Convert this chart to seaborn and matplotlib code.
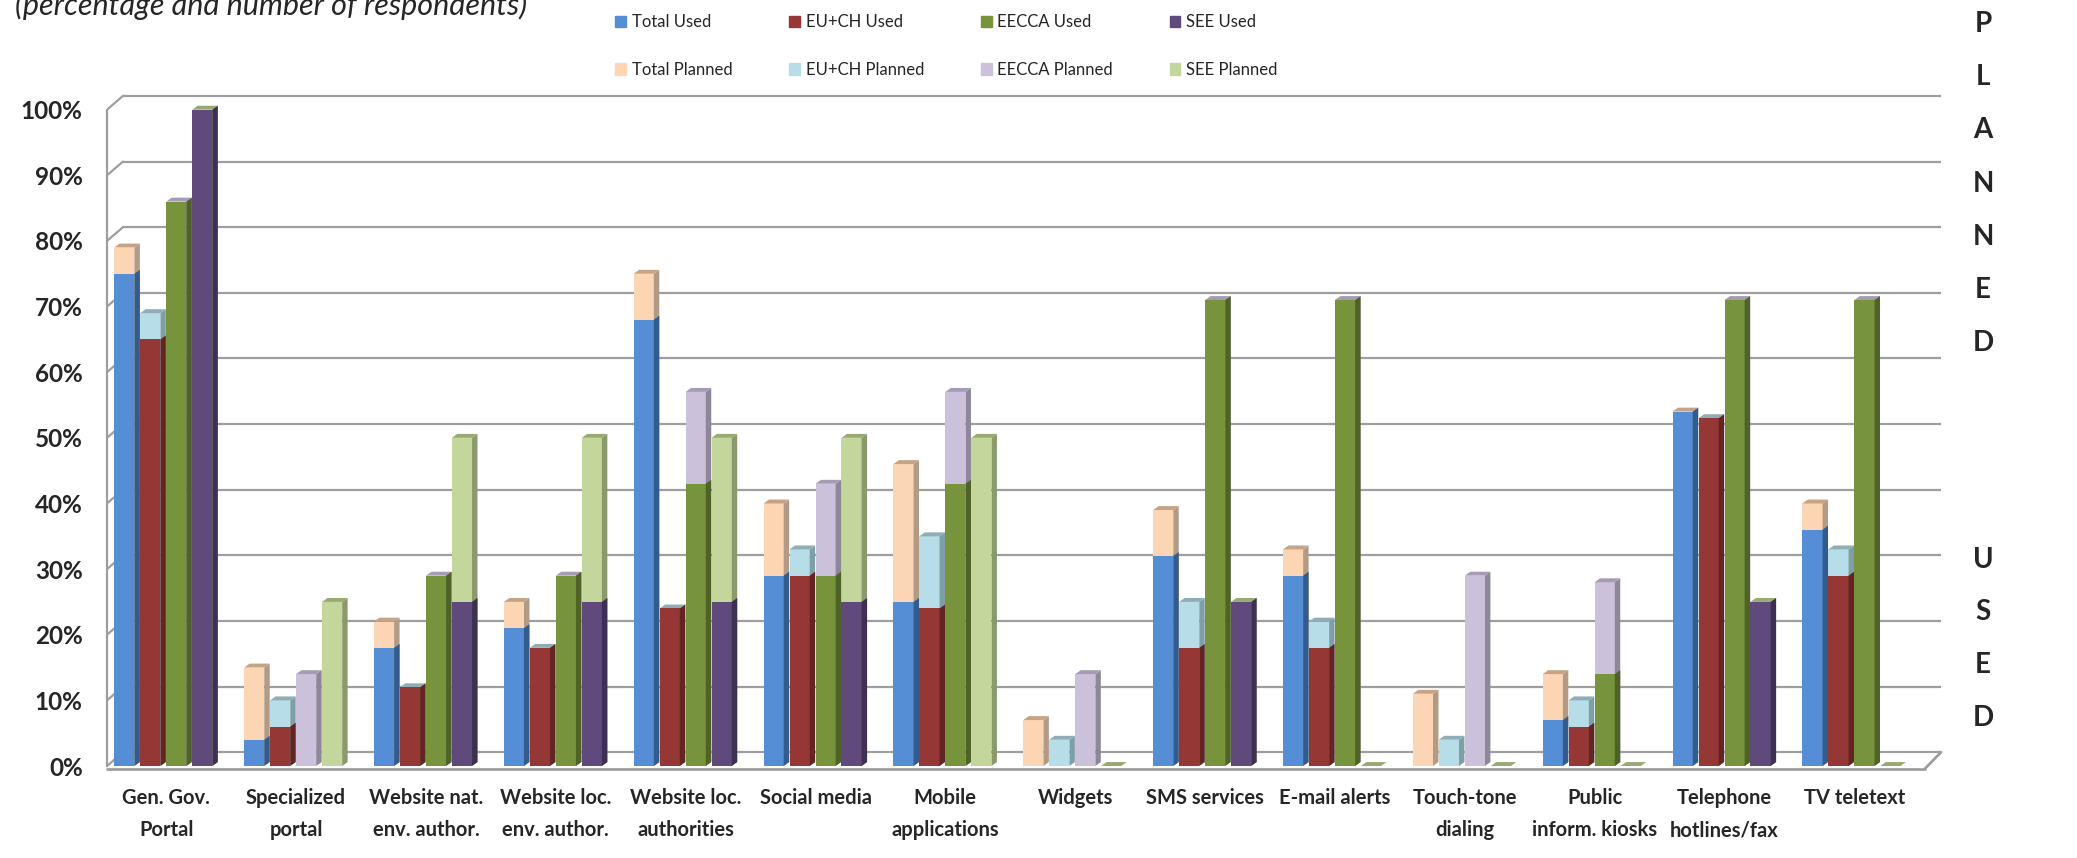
import matplotlib
matplotlib.use('Agg')
import matplotlib.pyplot as plt
from matplotlib.patches import Polygon, Patch
import seaborn as sns
import pandas as pd

# Data (percent of respondents)
categories = ['Gen. Gov.\nPortal', 'Specialized\nportal', 'Website nat.\nenv. author.',
              'Website loc.\nenv. author.', 'Website loc.\nauthorities', 'Social media',
              'Mobile\napplications', 'Widgets', 'SMS services', 'E-mail alerts',
              'Touch-tone\ndialing', 'Public\ninform. kiosks', 'Telephone\nhotlines/fax',
              'TV teletext']
groups = ['Total', 'EU+CH', 'EECCA', 'SEE']

total_used = [75, 4, 18, 21, 68, 29, 25, 0, 32, 29, 0, 7, 54, 36]
total_planned = [4, 11, 4, 4, 7, 11, 21, 7, 7, 4, 11, 7, 0, 4]
eu_used = [65, 6, 12, 18, 24, 29, 24, 0, 18, 18, 0, 6, 53, 29]
eu_planned = [4, 4, 0, 0, 0, 4, 11, 4, 7, 4, 4, 4, 0, 4]
eecca_used = [86, 0, 29, 29, 43, 29, 43, 0, 71, 71, 0, 14, 71, 71]
eecca_planned = [0, 14, 0, 0, 14, 14, 14, 14, 0, 0, 29, 14, 0, 0]
see_used = [100, 0, 25, 25, 25, 25, 0, 0, 25, 0, 0, 0, 25, 0]
see_planned = [0, 25, 25, 25, 25, 25, 50, 0, 0, 0, 0, 0, 0, 0]

used = [total_used, eu_used, eecca_used, see_used]
planned = [total_planned, eu_planned, eecca_planned, see_planned]

# colours: front, side, top
used_colors = ['#558ED5', '#953735', '#77933C', '#604A7B']
used_side = ['#335C8E', '#632523', '#4F6228', '#3E3052']
planned_colors = ['#FCD5B5', '#B7DEE8', '#CCC1DA', '#C3D69B']
planned_side = ['#B39A84', '#7F9FA8', '#8E8799', '#8A9A6C']
planned_top = ['#C4A484', '#8FADB5', '#A59CB3', '#97AA72']

rows = []
for g, name in enumerate(groups):
    for i, cat in enumerate(categories):
        rows.append({'category': cat, 'group': name,
                     'used': used[g][i], 'top': used[g][i] + planned[g][i]})
df = pd.DataFrame(rows)

sns.set_style('white')
plt.rcParams['font.family'] = ['Lato', 'DejaVu Sans']

fig = plt.figure(figsize=(20.77, 8.58), dpi=100)
ax = fig.add_axes([107 / 2077, 92 / 858, 1834 / 2077, 676 / 858])

FRONT, DX, DY = 0.155, 0.042, 0.6      # bar front width and depth
XL, XR = -0.456, 13.544                # front plane extent
BDX, BDY = 0.123, 2.1                  # back wall offset
GRID = '#9E9E9E'

n0 = len(ax.patches)
sns.barplot(data=df, x='category', y='top', hue='group', order=categories, hue_order=groups,
            palette=planned_colors, saturation=1, width=0.8, errorbar=None,
            legend=False, linewidth=0, zorder=2, ax=ax)
planned_bars = ax.patches[n0:]
n1 = len(ax.patches)
sns.barplot(data=df, x='category', y='used', hue='group', order=categories, hue_order=groups,
            palette=used_colors, saturation=1, width=0.8, errorbar=None,
            legend=False, linewidth=0, zorder=3, ax=ax)
used_bars = ax.patches[n1:]


def slot_of(bar):
    c = bar.get_x() + bar.get_width() / 2
    cat = int(round(c))
    return int(round((c - cat + 0.3) / 0.2))


# 3D look: side and top faces
for bar in planned_bars:
    s = slot_of(bar)
    x0, h = bar.get_x(), bar.get_height()
    bar.set_width(FRONT)
    x1 = x0 + FRONT
    ax.add_patch(Polygon([(x1, 0), (x1 + DX, DY), (x1 + DX, h + DY), (x1, h)],
                         closed=True, fc=planned_side[s], lw=0, zorder=2))
    ax.add_patch(Polygon([(x0, h), (x1, h), (x1 + DX, h + DY), (x0 + DX, h + DY)],
                         closed=True, fc=planned_top[s], lw=0, zorder=2))

for bar in used_bars:
    s = slot_of(bar)
    x0, h = bar.get_x(), bar.get_height()
    bar.set_width(FRONT)
    if h <= 0:
        bar.set_visible(False)
        continue
    x1 = x0 + FRONT
    ax.add_patch(Polygon([(x1, 0), (x1 + DX, DY), (x1 + DX, h + DY), (x1, h)],
                         closed=True, fc=used_side[s], lw=0, zorder=3))

# back wall gridlines and floor
for v in range(0, 101, 10):
    ax.plot([XL, XL + BDX], [v, v + BDY], color=GRID, lw=1.6, zorder=0)
    ax.plot([XL + BDX, XR + BDX], [v + BDY, v + BDY], color=GRID, lw=1.6, zorder=0)
ax.plot([XL, XR], [-0.4, -0.4], color=GRID, lw=2, zorder=1, clip_on=False)
ax.plot([XR, XR + BDX], [-0.4, BDY], color=GRID, lw=2, zorder=1, clip_on=False)

ax.set_xlim(XL, XR + BDX)
ax.set_ylim(0, 103)
for side in ['top', 'right', 'bottom']:
    ax.spines[side].set_visible(False)
ax.spines['left'].set_bounds(0, 100)
ax.spines['left'].set_color(GRID)
ax.spines['left'].set_linewidth(1.6)

ax.set_yticks(range(0, 101, 10))
ax.set_yticklabels([f'{v}%' for v in range(0, 101, 10)], fontsize=17.5, fontweight='bold')
ax.tick_params(axis='y', length=6.5, width=1.4, color=GRID, pad=11)
ax.set_xticks(range(len(categories)))
ax.set_xticklabels(categories, fontsize=14.5, fontweight='bold')
ax.tick_params(axis='x', length=0, pad=16)
for lab in ax.get_xticklabels():
    lab.set_linespacing(1.75)
ax.set_xlabel('')
ax.set_ylabel('')

# legend
handles = []
for g in range(4):
    handles.append(Patch(color=used_colors[g], label=f'{groups[g]} Used'))
    handles.append(Patch(color=planned_colors[g], label=f'{groups[g]} Planned'))
fig.legend(handles=handles, ncol=4, loc='center left', bbox_to_anchor=(615 / 2077, 1 - 46 / 858),
           frameon=False, fontsize=12, handlelength=0.65, handleheight=0.65,
           handletextpad=0.35, columnspacing=3.4, labelspacing=1.9, borderpad=0, borderaxespad=0)

# title (cropped at the top in the original)
fig.text(15 / 2077, 1 - 15 / 858, '(percentage and number of respondents)',
         fontsize=22, style='italic', va='baseline', ha='left')

# side labels
for k, ch in enumerate('PLANNED'):
    fig.text(1983 / 2077, 1 - (24 + 53.2 * k) / 858, ch, fontsize=20, fontweight='bold',
             ha='center', va='center')
for k, ch in enumerate('USED'):
    fig.text(1983 / 2077, 1 - (560 + 52.5 * k) / 858, ch, fontsize=20, fontweight='bold',
             ha='center', va='center')

fig.savefig('out.png', dpi=100)
